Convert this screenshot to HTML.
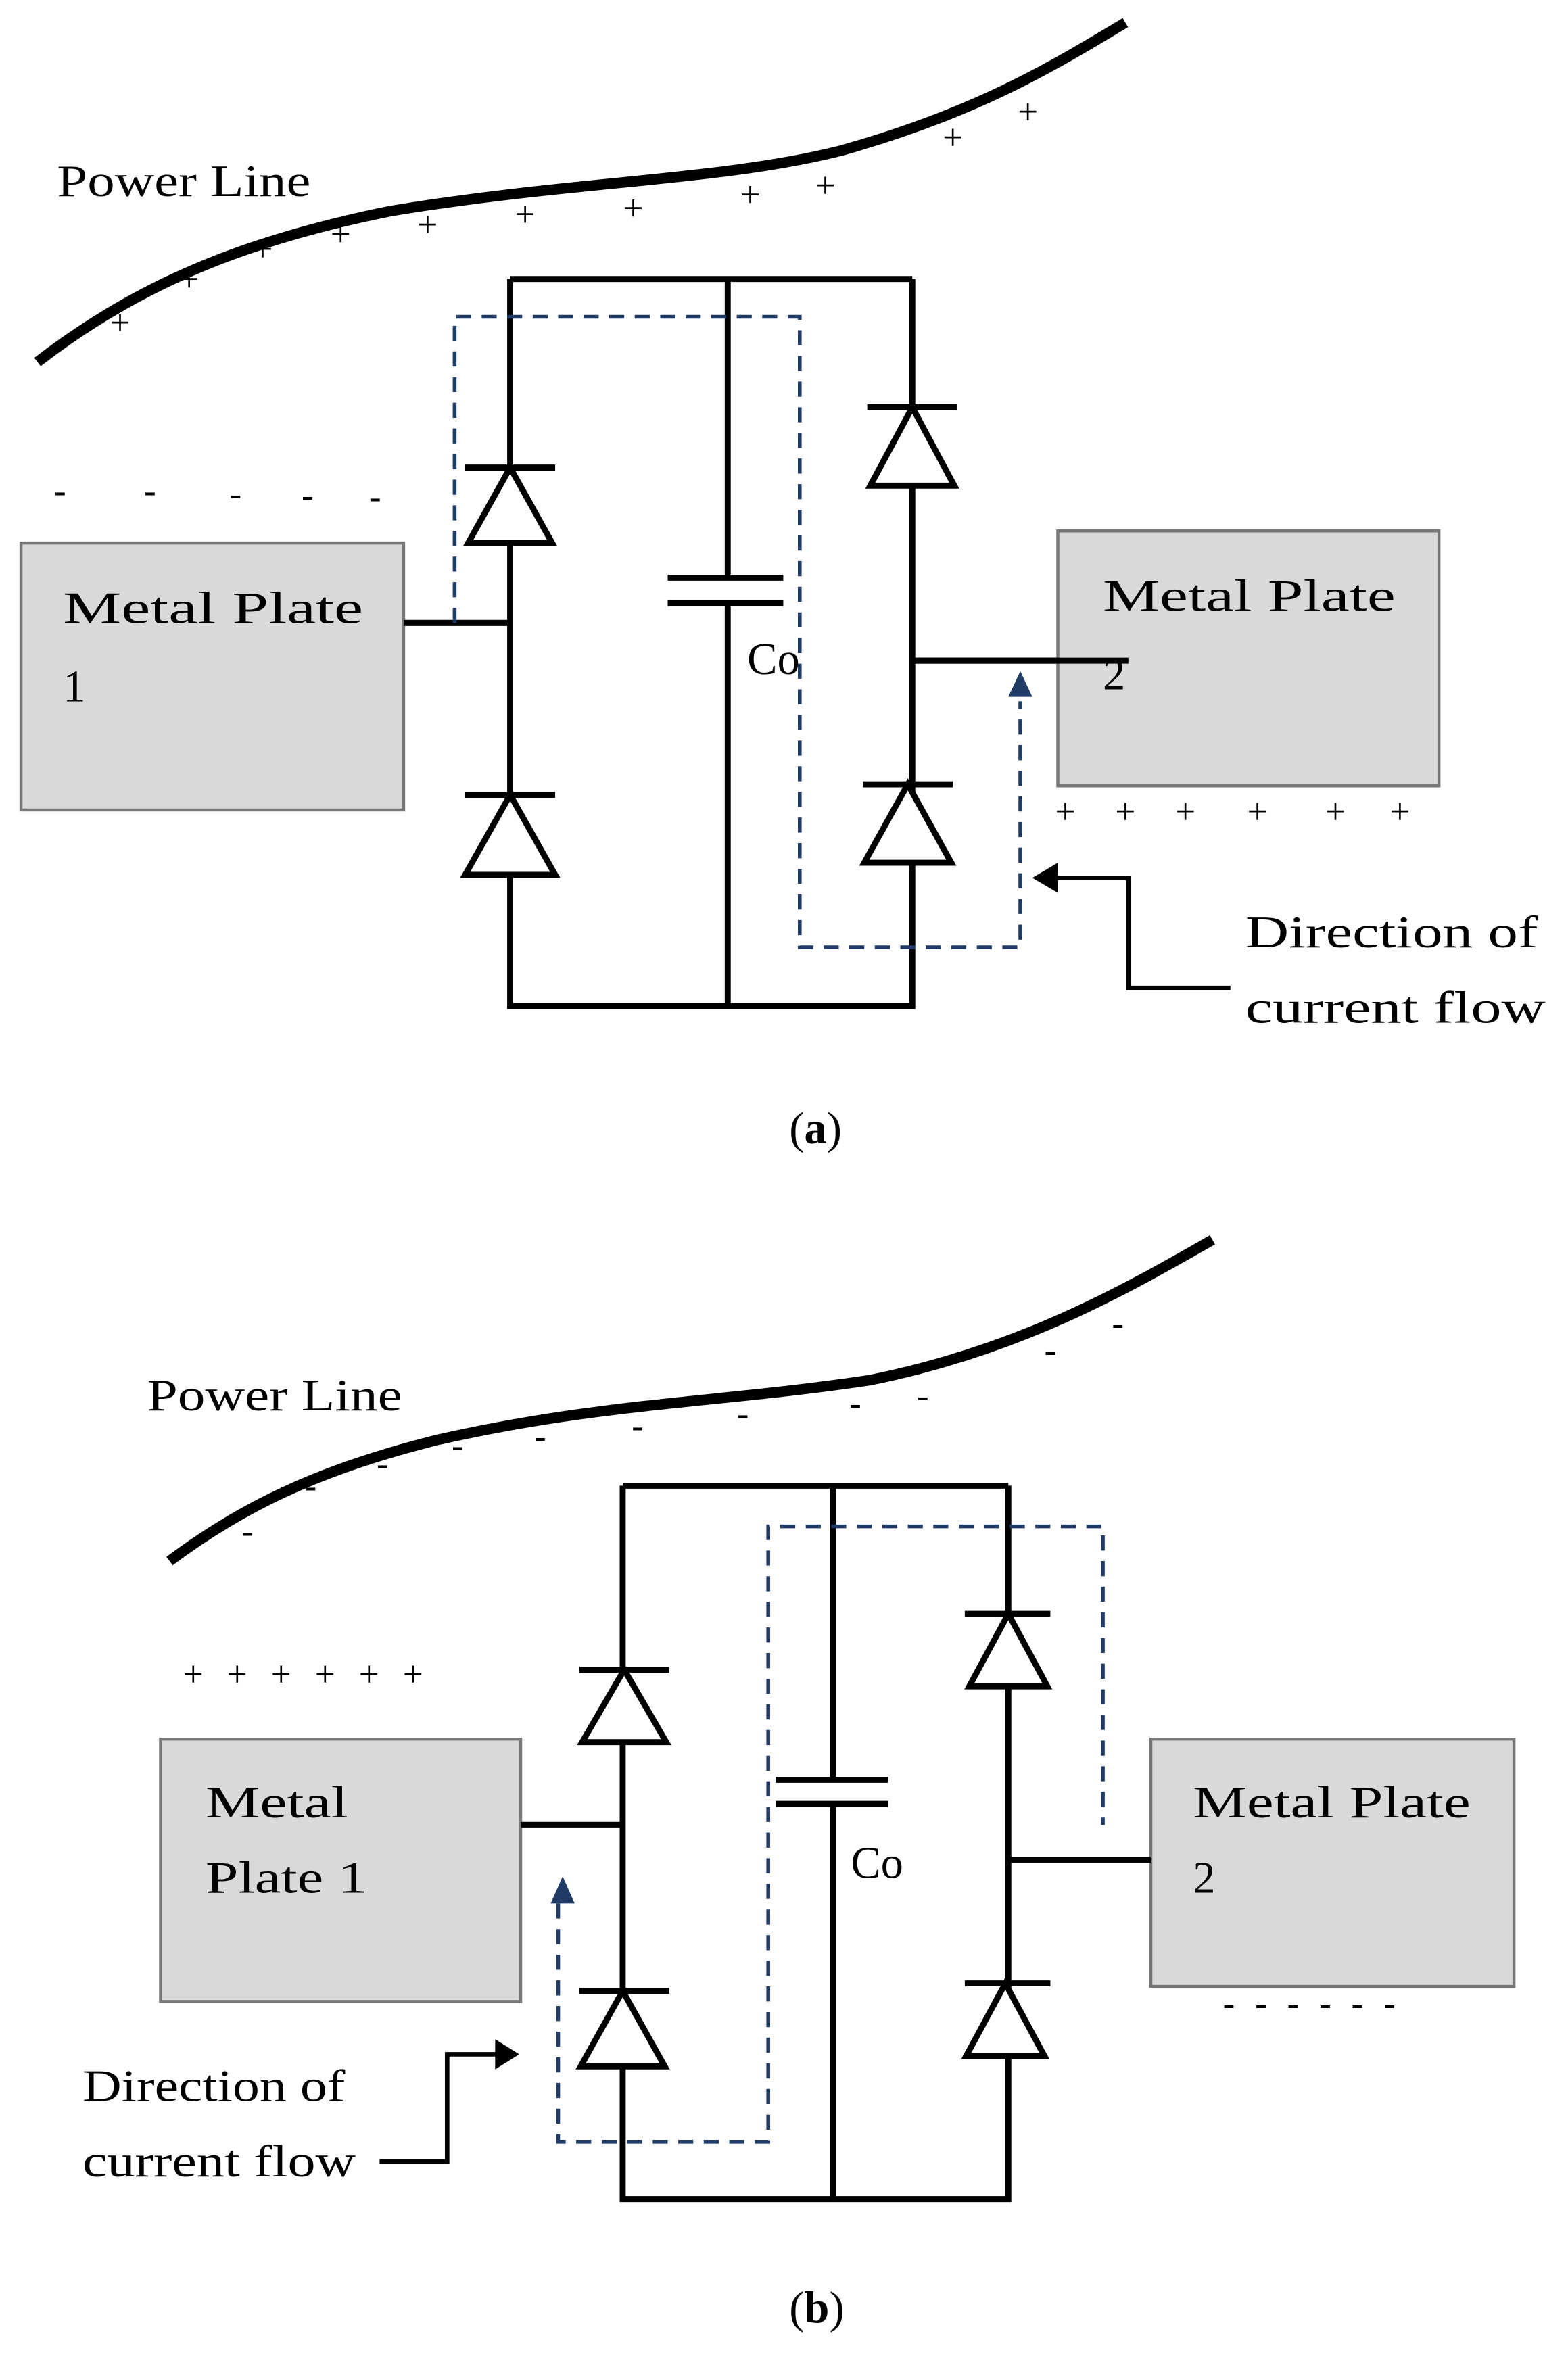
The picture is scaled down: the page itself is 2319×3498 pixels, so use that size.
<!DOCTYPE html>
<html><head><style>html,body{margin:0;padding:0;background:#fff}svg{display:block}</style></head>
<body>
<svg width="2319" height="3498" viewBox="0 0 1045 1568" preserveAspectRatio="none" xmlns="http://www.w3.org/2000/svg" font-family="'Liberation Serif', serif">
<g fill="none" stroke="#000" stroke-width="4">
<path d="M25,240 C90,190 160,160 260,140 C380,120 480,120 560,100 C650,75 700,45 750,15" stroke-width="7"/>
<path d="M340,185 H608 M340,185 V667 H608 V185 M485,185 V383 M485,400 V667 M445,383 H522 M445,400 H522 M269,413 H340 M608,438 H752"/>
<path d="M310,310 H370 M340,310 L312,360 H368 Z M310,527 H370 M340,527 L310,580 H370 Z M578,270 H638 M608,270 L580,322 H636 Z M575,520 H635 M605,520 L576,572 H634 Z" fill="#fff"/>
<path d="M820,655 H752 V582 H700" stroke-width="3"/>
<path d="M113,1035 C160,1000 210,975 290,955 C400,930 480,930 580,915 C680,895 750,855 808,822" stroke-width="7"/>
<path d="M415,985 H672 M415,985 V1458 H672 V985 M555,985 V1180 M555,1196 V1458 M517,1180 H592 M517,1196 H592 M347,1210 H415 M672,1233 H767"/>
<path d="M386,1107 H446 M416,1107 L388,1155 H444 Z M386,1320 H446 M415,1320 L387,1370 H443 Z M643,1070 H700 M672,1070 L646,1118 H698 Z M643,1315 H700 M670,1315 L644,1363 H696 Z" fill="#fff"/>
<path d="M253,1433 H298 V1362 H335" stroke-width="3"/>
</g>
<rect x="14" y="360" width="255" height="177" fill="#d9d9d9" stroke="#777" stroke-width="2"/>
<rect x="705" y="352" width="254" height="169" fill="#d9d9d9" stroke="#777" stroke-width="2"/>
<rect x="107" y="1153" width="240" height="174" fill="#d9d9d9" stroke="#777" stroke-width="2"/>
<rect x="767" y="1153" width="242" height="164" fill="#d9d9d9" stroke="#777" stroke-width="2"/>
<path d="M269,413 H340 M608,438 H752 M347,1210 H415 M672,1233 H767" stroke="#000" stroke-width="4"/>
<g fill="none" stroke="#1f3b66" stroke-width="2.5" stroke-dasharray="10,7">
<path d="M303,413 V210 H533 V628 H680 V465"/>
<path d="M372,1262 V1420 H512 V1012 H735 V1210"/>
</g>
<path d="M672,462 L680,445 L688,462 Z M367,1262 L375,1244 L383,1262 Z" fill="#1f3b66"/>
<path d="M705,572 L688,582 L705,592 Z M330,1352 L346,1362 L330,1372 Z" fill="#000"/>
<g font-size="30" fill="#000" lengthAdjust="spacingAndGlyphs">
<text x="38" y="130" textLength="169" lengthAdjust="spacingAndGlyphs">Power Line</text>
<text x="42" y="413" textLength="200" lengthAdjust="spacingAndGlyphs">Metal  Plate</text>
<text x="42" y="465">1</text>
<text x="735" y="405" textLength="195" lengthAdjust="spacingAndGlyphs">Metal  Plate</text>
<text x="735" y="457">2</text>
<text x="498" y="447">Co</text>
<text x="830" y="628" textLength="195" lengthAdjust="spacingAndGlyphs">Direction of</text>
<text x="830" y="678" textLength="200" lengthAdjust="spacingAndGlyphs">current flow</text>
<text x="526" y="758">(<tspan font-weight="bold">a</tspan>)</text>
<text x="98" y="935" textLength="170" lengthAdjust="spacingAndGlyphs">Power Line</text>
<text x="137" y="1205" textLength="95" lengthAdjust="spacingAndGlyphs">Metal</text>
<text x="137" y="1255" textLength="108" lengthAdjust="spacingAndGlyphs">Plate 1</text>
<text x="795" y="1205" textLength="185" lengthAdjust="spacingAndGlyphs">Metal Plate</text>
<text x="795" y="1255">2</text>
<text x="567" y="1245">Co</text>
<text x="55" y="1393" textLength="175" lengthAdjust="spacingAndGlyphs">Direction of</text>
<text x="55" y="1443" textLength="182" lengthAdjust="spacingAndGlyphs">current flow</text>
<text x="526" y="1540">(<tspan font-weight="bold">b</tspan>)</text>
</g>
<g font-size="24" fill="#000" text-anchor="middle">
<text x="80" y="222">+</text><text x="126" y="193">+</text><text x="175" y="173">+</text><text x="227" y="163">+</text><text x="285" y="157">+</text><text x="350" y="150">+</text><text x="422" y="146">+</text><text x="500" y="137">+</text><text x="550" y="131">+</text><text x="635" y="99">+</text><text x="685" y="82">+</text>
<text x="710" y="546">+</text><text x="750" y="546">+</text><text x="790" y="546">+</text><text x="838" y="546">+</text><text x="890" y="546">+</text><text x="933" y="546">+</text>
<text x="40" y="333">-</text><text x="100" y="333">-</text><text x="157" y="335">-</text><text x="205" y="336">-</text><text x="250" y="337">-</text>
<text x="165" y="1023">-</text><text x="207" y="993">-</text><text x="255" y="978">-</text><text x="305" y="966">-</text><text x="360" y="960">-</text><text x="425" y="953">-</text><text x="495" y="945">-</text><text x="570" y="938">-</text><text x="615" y="933">-</text><text x="700" y="903">-</text><text x="745" y="885">-</text>
</g>
<g font-size="24" fill="#000">
<text x="122" y="1118" textLength="160" lengthAdjust="spacing">++++++</text>
<text x="815" y="1336" textLength="115" lengthAdjust="spacing">------</text>
</g>
</svg>
</body></html>
